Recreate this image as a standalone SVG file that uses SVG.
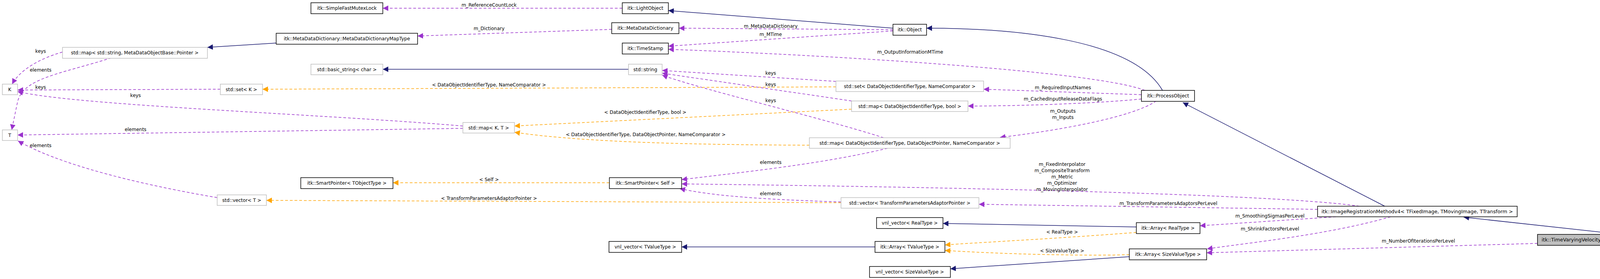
<svg xmlns="http://www.w3.org/2000/svg" width="4608" height="713" viewBox="0 0 4608 713">
<style>
text{font-family:"DejaVu Sans","Liberation Sans",sans-serif;font-size:12px;fill:#000}
.n text{text-anchor:middle}
.b{fill:#fff;stroke:#000;stroke-width:1.5}
.g{fill:#fff;stroke:#bfbfbf;stroke-width:1.5}
.s{fill:#bfbfbf;stroke:#000;stroke-width:1.5}
.p{fill:none;stroke:#9a32cd;stroke-width:1.5;stroke-dasharray:7,5;marker-end:url(#mp)}
.o{fill:none;stroke:#ffa500;stroke-width:1.5;stroke-dasharray:7,5;marker-end:url(#mo)}
.v{fill:none;stroke:#191970;stroke-width:1.5;marker-end:url(#mv)}
.l{text-anchor:middle}
</style>
<defs>
<marker id="mp" viewBox="0 0 10 10" refX="10" refY="5" markerWidth="14" markerHeight="14" markerUnits="userSpaceOnUse" orient="auto"><path d="M0,0L10,5L0,10z" fill="#9a32cd"/></marker>
<marker id="mo" viewBox="0 0 10 10" refX="10" refY="5" markerWidth="14" markerHeight="14" markerUnits="userSpaceOnUse" orient="auto"><path d="M0,0L10,5L0,10z" fill="#ffa500"/></marker>
<marker id="mv" viewBox="0 0 10 10" refX="10" refY="5" markerWidth="14" markerHeight="14" markerUnits="userSpaceOnUse" orient="auto"><path d="M0,0L10,5L0,10z" fill="#191970"/></marker>
</defs>
<rect width="4608" height="713" fill="#fff"/>
<g id="edges">
<path class="p" d="M1593,21L980,21"/><text class="l" x="1252" y="17">m_ReferenceCountLock</text>
<path class="p" d="M1566,75L1069,92"/><text class="l" x="1252" y="77">m_Dictionary</text>
<path class="p" d="M2286,76L1738,72"/><text class="l" x="1973" y="71">m_MetaDataDictionary</text>
<path class="p" d="M2286,79L1711,118"/><text class="l" x="1973" y="92">m_MTime</text>
<path class="p" d="M2931,231C2800,180 2100,140 1711,126"/><text class="l" x="2330" y="137">m_OutputInformationMTime</text>
<path class="p" d="M160,133C100,150 50,180 31,215"/><text class="l" x="104" y="135">keys</text>
<path class="p" d="M285,148C150,190 60,200 45,260L30,332"/><text class="l" x="104" y="183">elements</text>
<path class="p" d="M564,228L45,230"/><text class="l" x="104" y="227">keys</text>
<path class="p" d="M1185,322C800,290 200,270 45,234"/><text class="l" x="347" y="248">keys</text>
<path class="p" d="M1185,328L45,345"/><text class="l" x="347" y="335">elements</text>
<path class="p" d="M556,505C350,470 150,420 46,360"/><text class="l" x="104" y="376">elements</text>
<path class="p" d="M2140,208L1695,180"/><text class="l" x="1973" y="191">keys</text>
<path class="p" d="M2180,258L1695,187"/><text class="l" x="1973" y="220">keys</text>
<path class="p" d="M2262,352C2100,300 1800,230 1695,192"/><text class="l" x="1973" y="261">keys</text>
<path class="p" d="M2922,242L2518,228"/><text class="l" x="2721" y="228">m_RequiredInputNames</text>
<path class="p" d="M2922,253C2800,265 2600,271 2478,271"/><text class="l" x="2721" y="257">m_CachedInputReleaseDataFlags</text>
<path class="p" d="M2960,258C2900,300 2700,335 2560,351"/><text class="l" x="2721" y="288">m_Outputs</text><text class="l" x="2721" y="304">m_Inputs</text>
<path class="p" d="M2272,379C2100,420 1900,440 1745,459"/><text class="l" x="1973" y="419">elements</text>
<path class="p" d="M3480,527C3300,500 2600,480 1745,470"/>
<text class="l" x="2719" y="424">m_FixedInterpolator</text><text class="l" x="2719" y="440">m_CompositeTransform</text><text class="l" x="2719" y="456">m_Metric</text><text class="l" x="2719" y="472">m_Optimizer</text><text class="l" x="2719" y="488">m_MovingInterpolator</text>
<path class="p" d="M2153,516C1950,510 1820,500 1740,482"/><text class="l" x="1973" y="499">elements</text>
<path class="p" d="M3373,535L2506,522"/><text class="l" x="2991" y="524">m_TransformParametersAdaptorsPerLevel</text>
<path class="p" d="M3420,554L3072,577"/><text class="l" x="3251" y="556">m_SmoothingSigmasPerLevel</text>
<path class="p" d="M3560,554C3400,600 3200,620 3090,636"/><text class="l" x="3251" y="589">m_ShrinkFactorsPerLevel</text>
<path class="p" d="M3936,622L3089,646"/><text class="l" x="3631" y="620">m_NumberOfIterationsPerLevel</text>
<path class="o" d="M2140,222L672,228"/><text class="l" x="1252" y="221">&lt; DataObjectIdentifierType, NameComparator &gt;</text>
<path class="o" d="M2180,279L1317,322"/><text class="l" x="1652" y="291">&lt; DataObjectIdentifierType, bool &gt;</text>
<path class="o" d="M2072,371C1800,370 1500,365 1317,338"/><text class="l" x="1653" y="348">&lt; DataObjectIdentifierType, DataObjectPointer, NameComparator &gt;</text>
<path class="o" d="M1560,467L1006,467"/><text class="l" x="1252" y="463">&lt; Self &gt;</text>
<path class="o" d="M2153,518L682,512"/><text class="l" x="1252" y="511">&lt; TransformParametersAdaptorPointer &gt;</text>
<path class="o" d="M2909,594C2700,610 2500,620 2419,626"/><text class="l" x="2719" y="597">&lt; RealType &gt;</text>
<path class="o" d="M2891,651C2700,655 2500,645 2419,640"/><text class="l" x="2719" y="645">&lt; SizeValueType &gt;</text>
<path class="v" d="M2286,72L1711,27"/>
<path class="v" d="M2976,231C2900,100 2600,72 2372,72"/>
<path class="v" d="M707,110L531,121"/>
<path class="v" d="M1609,177L980,177"/>
<path class="v" d="M3545,527L3028,262"/>
<path class="v" d="M4150,599L3747,555"/>
<path class="v" d="M2240,631L1745,631"/>
<path class="v" d="M2909,580L2414,571"/>
<path class="v" d="M2891,656L2433,687"/>
</g>
<g class="n">
<g id="n_mutex"><rect class="b" x="796" y="7" width="184" height="28"/><text x="888" y="25">itk::SimpleFastMutexLock</text></g>
<g id="n_light"><rect class="b" x="1593" y="7" width="118" height="28"/><text x="1652" y="25">itk::LightObject</text></g>
<g id="n_mdd"><rect class="b" x="1566" y="58" width="172" height="28"/><text x="1652" y="76">itk::MetaDataDictionary</text></g>
<g id="n_ts"><rect class="b" x="1593" y="110" width="118" height="28"/><text x="1652" y="128">itk::TimeStamp</text></g>
<g id="n_obj"><rect class="b" x="2286" y="62" width="86" height="28"/><text x="2329" y="80">itk::Object</text></g>
<g id="n_mddmap"><rect class="b" x="707" y="85" width="362" height="28"/><text x="888" y="103">itk::MetaDataDictionary::MetaDataDictionaryMapType</text></g>
<g id="n_mapstr"><rect class="g" x="160" y="121" width="371" height="28"/><text x="345" y="139">std::map&lt; std::string, MetaDataObjectBase::Pointer &gt;</text></g>
<g id="n_K"><rect class="g" x="6" y="215" width="39" height="27"/><text x="25" y="233">K</text></g>
<g id="n_T"><rect class="g" x="6" y="332" width="39" height="27"/><text x="25" y="350">T</text></g>
<g id="n_setK"><rect class="g" x="564" y="215" width="108" height="27"/><text x="618" y="233">std::set&lt; K &gt;</text></g>
<g id="n_bstr"><rect class="g" x="796" y="164" width="184" height="27"/><text x="888" y="182">std::basic_string&lt; char &gt;</text></g>
<g id="n_str"><rect class="g" x="1609" y="164" width="86" height="27"/><text x="1652" y="182">std::string</text></g>
<g id="n_setD"><rect class="g" x="2140" y="207" width="378" height="27"/><text x="2329" y="225">std::set&lt; DataObjectIdentifierType, NameComparator &gt;</text></g>
<g id="n_mapDb"><rect class="g" x="2180" y="258" width="298" height="27"/><text x="2329" y="276">std::map&lt; DataObjectIdentifierType, bool &gt;</text></g>
<g id="n_mapKT"><rect class="g" x="1185" y="313" width="132" height="27"/><text x="1251" y="331">std::map&lt; K, T &gt;</text></g>
<g id="n_mapDP"><rect class="g" x="2072" y="352" width="514" height="27"/><text x="2329" y="370">std::map&lt; DataObjectIdentifierType, DataObjectPointer, NameComparator &gt;</text></g>
<g id="n_po"><rect class="b" x="2922" y="231" width="136" height="28"/><text x="2990" y="249">itk::ProcessObject</text></g>
<g id="n_spT"><rect class="b" x="770" y="454" width="236" height="28"/><text x="888" y="472">itk::SmartPointer&lt; TObjectType &gt;</text></g>
<g id="n_spS"><rect class="b" x="1560" y="454" width="185" height="28"/><text x="1652" y="472">itk::SmartPointer&lt; Self &gt;</text></g>
<g id="n_vecT"><rect class="g" x="556" y="498" width="126" height="27"/><text x="619" y="516">std::vector&lt; T &gt;</text></g>
<g id="n_vecP"><rect class="g" x="2153" y="505" width="353" height="27"/><text x="2329" y="523">std::vector&lt; TransformParametersAdaptorPointer &gt;</text></g>
<g id="n_vnlR"><rect class="b" x="2244" y="556" width="170" height="28"/><text x="2329" y="574">vnl_vector&lt; RealType &gt;</text></g>
<g id="n_vnlT"><rect class="b" x="1559" y="617" width="186" height="28"/><text x="1652" y="635">vnl_vector&lt; TValueType &gt;</text></g>
<g id="n_arrT"><rect class="b" x="2240" y="617" width="179" height="28"/><text x="2329" y="635">itk::Array&lt; TValueType &gt;</text></g>
<g id="n_vnlS"><rect class="b" x="2226" y="681" width="207" height="28"/><text x="2329" y="699">vnl_vector&lt; SizeValueType &gt;</text></g>
<g id="n_arrR"><rect class="b" x="2909" y="569" width="163" height="28"/><text x="2990" y="587">itk::Array&lt; RealType &gt;</text></g>
<g id="n_arrS"><rect class="b" x="2891" y="636" width="198" height="28"/><text x="2990" y="654">itk::Array&lt; SizeValueType &gt;</text></g>
<g id="n_irm"><rect class="b" x="3373" y="527" width="511" height="27"/><text x="3628" y="545" textLength="490" lengthAdjust="spacingAndGlyphs">itk::ImageRegistrationMethodv4&lt; TFixedImage, TMovingImage, TTransform &gt;</text></g>
<g id="n_tv"><rect class="s" x="3936" y="599" width="666" height="28"/><text x="4269" y="617" textLength="645" lengthAdjust="spacingAndGlyphs">itk::TimeVaryingVelocityFieldImageRegistrationMethodv4&lt; TFixedImage, TMovingImage, TTransform &gt;</text></g>
</g>
</svg>
